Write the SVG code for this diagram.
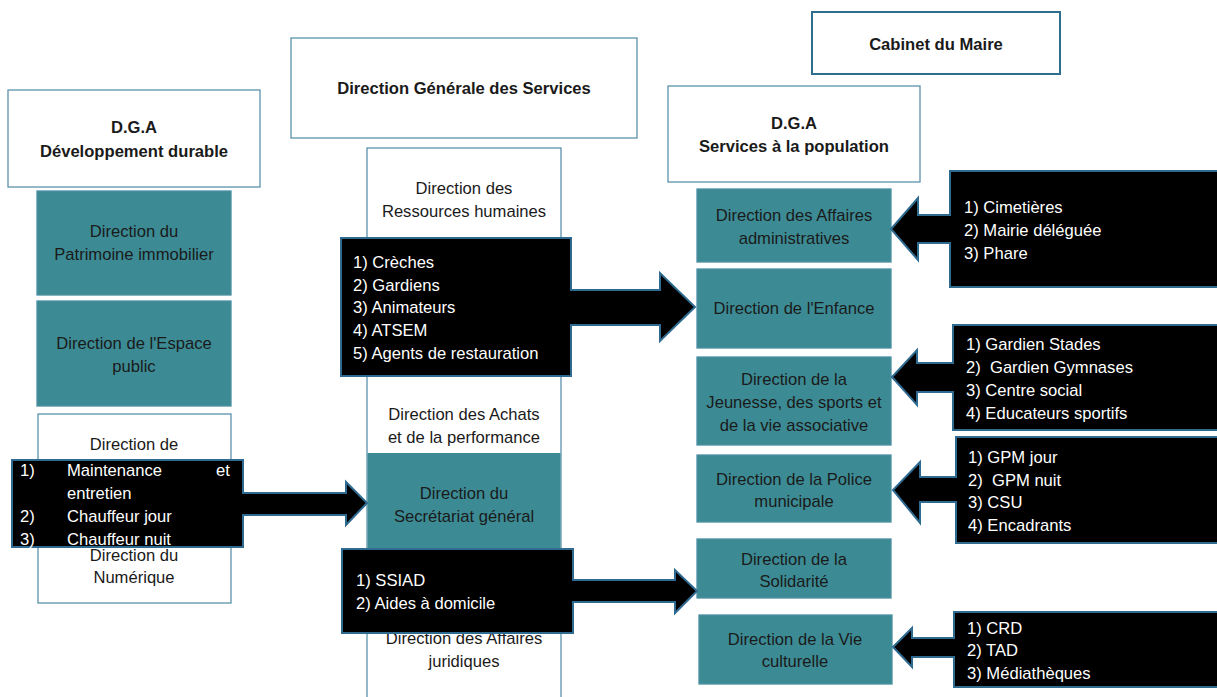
<svg xmlns="http://www.w3.org/2000/svg" width="1217" height="697" viewBox="0 0 1217 697">
<style>
text{font-family:"Liberation Sans",Arial,sans-serif;font-size:16.6px;}
.c{text-anchor:middle;fill:#1a1a1a;}
.b{font-weight:bold;}
.w{fill:#ffffff;}
.wb{fill:#ffffff;stroke:#5b93ab;stroke-width:1.3;}
.tl{fill:#3c8b94;stroke:#4c8fa2;stroke-width:1.3;}
.co{fill:#000000;stroke:#2f6a90;stroke-width:2;stroke-linejoin:miter;}
</style>
<rect width="1217" height="697" fill="#ffffff"/>

<g id="cabinet">
<rect x="812" y="12" width="248" height="62" fill="#fff" stroke="#2f6f8d" stroke-width="2"/>
<text class="c b" x="936" y="50">Cabinet du Maire</text>
</g>

<g id="dgs">
<rect class="wb" x="291" y="38" width="346" height="100"/>
<text class="c b" x="464" y="94">Direction Générale des Services</text>
</g>

<g id="dga-dd">
<rect class="wb" x="8" y="90" width="252" height="97"/>
<text class="c b" x="134" y="133">D.G.A</text>
<text class="c b" x="134" y="157">Développement durable</text>
</g>

<g id="dga-sp">
<rect class="wb" x="668" y="86" width="252" height="96"/>
<text class="c b" x="794" y="129">D.G.A</text>
<text class="c b" x="794" y="152">Services à la population</text>
</g>

<g id="patrimoine">
<rect class="tl" x="37" y="191" width="194" height="104"/>
<text class="c" x="134" y="237">Direction du</text>
<text class="c" x="134" y="260">Patrimoine immobilier</text>
</g>

<g id="espace-public">
<rect class="tl" x="37" y="301" width="194" height="105"/>
<text class="c" x="134" y="349">Direction de l'Espace</text>
<text class="c" x="134" y="372">public</text>
</g>

<g id="logistique-numerique">
<rect class="wb" x="38" y="414" width="193" height="189"/>
<text class="c" x="134" y="450">Direction de</text>
<text class="c" x="134" y="561">Direction du</text>
<text class="c" x="134" y="583">Numérique</text>
</g>

<g id="col-dgs">
<rect class="wb" x="367" y="148" width="194" height="560"/>
<text class="c" x="464" y="194">Direction des</text>
<text class="c" x="464" y="217">Ressources humaines</text>
<text class="c" x="464" y="420">Direction des Achats</text>
<text class="c" x="464" y="443">et de la performance</text>
<text class="c" x="464" y="644">Direction des Affaires</text>
<text class="c" x="464" y="667">juridiques</text>
</g>

<g id="secretariat">
<rect x="367.5" y="453" width="193" height="96" fill="#3c8b94"/>
<text class="c" x="464" y="499">Direction du</text>
<text class="c" x="464" y="522">Secrétariat général</text>
</g>

<g id="affaires-admin">
<rect class="tl" x="697" y="189" width="194" height="73"/>
<text class="c" x="794" y="221">Direction des Affaires</text>
<text class="c" x="794" y="244">administratives</text>
</g>

<g id="enfance">
<rect class="tl" x="697" y="269" width="194" height="79"/>
<text class="c" x="794" y="314">Direction de l'Enfance</text>
</g>

<g id="jeunesse">
<rect class="tl" x="697" y="357" width="194" height="88"/>
<text class="c" x="794" y="385">Direction de la</text>
<text class="c" x="794" y="408">Jeunesse, des sports et</text>
<text class="c" x="794" y="431">de la vie associative</text>
</g>

<g id="police">
<rect class="tl" x="697" y="455" width="194" height="67"/>
<text class="c" x="794" y="485">Direction de la Police</text>
<text class="c" x="794" y="507">municipale</text>
</g>

<g id="solidarite">
<rect class="tl" x="697" y="539" width="194" height="59"/>
<text class="c" x="794" y="565">Direction de la</text>
<text class="c" x="794" y="587">Solidarité</text>
</g>

<g id="vie-culturelle">
<rect class="tl" x="699" y="615" width="193" height="69"/>
<text class="c" x="795" y="645">Direction de la Vie</text>
<text class="c" x="795" y="667">culturelle</text>
</g>

<g id="connectors">
<path class="co" d="M341,238 H571 V290 H660 V273 L695,307 L660,341 V325 H571 V376 H341 Z"/>
<path class="co" d="M12,460 H243 V493 H346 V482 L367,503 L346,525 V515 H243 V547 H12 Z"/>
<path class="co" d="M342,549 H573 V580 H675 V570 L697,591 L675,613 V602 H573 V633 H342 Z"/>
<path class="co" d="M950,171 H1220 V287 H950 V243 H918 V260 L891,229 L918,198 V215 H950 Z"/>
<path class="co" d="M953,325 H1220 V430 H953 V392 H917 V405 L892,377 L917,350 V363 H953 Z"/>
<path class="co" d="M956,437 H1220 V543 H956 V502 H920 V523 L893,490 L920,462 V477 H956 Z"/>
<path class="co" d="M954,612 H1220 V687 H954 V657 H912 V667 L893,647 L912,628 V638 H954 Z"/>
</g>

<g id="list-creches">
<text class="w" x="353" y="268">1) Crèches</text>
<text class="w" x="353" y="291">2) Gardiens</text>
<text class="w" x="353" y="313">3) Animateurs</text>
<text class="w" x="353" y="336">4) ATSEM</text>
<text class="w" x="353" y="359">5) Agents de restauration</text>
</g>

<g id="list-logistique">
<text class="w" x="20" y="476">1)</text>
<text class="w" x="67" y="476">Maintenance</text>
<text class="w" x="216" y="476">et</text>
<text class="w" x="67" y="499">entretien</text>
<text class="w" x="20" y="522">2)</text>
<text class="w" x="67" y="522">Chauffeur jour</text>
<text class="w" x="20" y="545">3)</text>
<text class="w" x="67" y="545">Chauffeur nuit</text>
</g>

<g id="list-ssiad">
<text class="w" x="356" y="586">1) SSIAD</text>
<text class="w" x="356" y="609">2) Aides à domicile</text>
</g>

<g id="list-cimetieres">
<text class="w" x="964" y="213">1) Cimetières</text>
<text class="w" x="964" y="236">2) Mairie déléguée</text>
<text class="w" x="964" y="259">3) Phare</text>
</g>

<g id="list-sports">
<text class="w" x="966" y="350">1) Gardien Stades</text>
<text class="w" x="966" y="373" xml:space="preserve">2)  Gardien Gymnases</text>
<text class="w" x="966" y="396">3) Centre social</text>
<text class="w" x="966" y="419">4) Educateurs sportifs</text>
</g>

<g id="list-police">
<text class="w" x="968" y="463">1) GPM jour</text>
<text class="w" x="968" y="486" xml:space="preserve">2)  GPM nuit</text>
<text class="w" x="968" y="508">3) CSU</text>
<text class="w" x="968" y="531">4) Encadrants</text>
</g>

<g id="list-culture">
<text class="w" x="967" y="634">1) CRD</text>
<text class="w" x="967" y="656">2) TAD</text>
<text class="w" x="967" y="679">3) Médiathèques</text>
</g>
</svg>
